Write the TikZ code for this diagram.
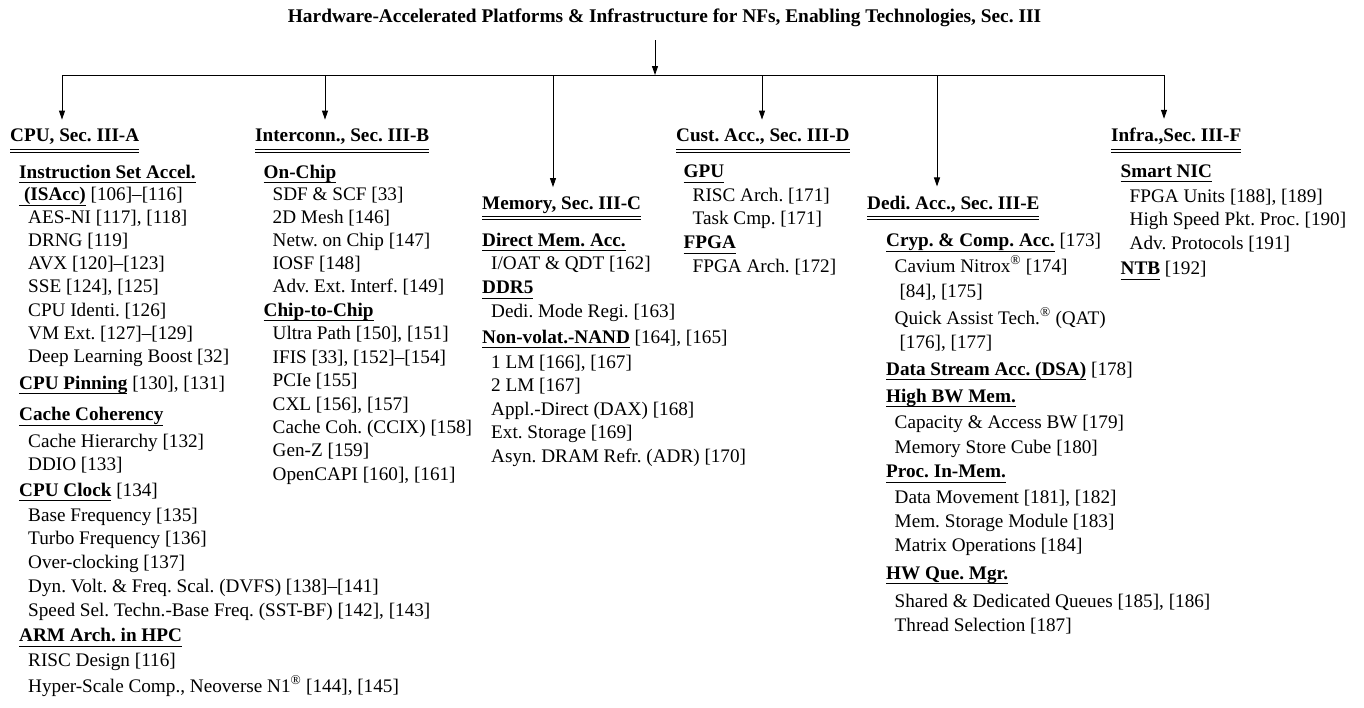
\documentclass[tikz,border=0pt]{standalone}
\usepackage{fontspec}
\setmainfont{Liberation Serif}
\usetikzlibrary{arrows.meta}
\frenchspacing

% single underline under a heading, double rule under a section title
\newcommand\hul[1]{\setbox0\hbox{#1}\rlap{\vrule height -4pt depth 4.9pt width \wd0}\box0\relax}
\newcommand\dul[1]{\setbox0\hbox{#1}\rlap{\vrule height -7.2pt depth 8.1pt width \wd0}\rlap{\vrule height -10.2pt depth 11.1pt width \wd0}\box0\relax}
\newcommand\fs{\fontsize{19.2pt}{23pt}\selectfont}

\tikzset{
  txt/.style={anchor=base west, inner sep=0pt, font=\fs},
  ttl/.style={anchor=base, inner sep=0pt, font=\fontsize{19.35pt}{23pt}\selectfont\bfseries},
  ln/.style={line width=0.9pt},
  arr/.style={line width=0.9pt, -{Triangle[length=9pt,width=6pt]}, shorten >=9pt},
}

\begin{document}
\begin{tikzpicture}[x=1pt, y=-1pt]
\useasboundingbox (0,0) rectangle (1364,707);

% title and top-level bus
\node[ttl] (title) at (664.5,22.5) {Hardware-Accelerated Platforms \& Infrastructure for NFs, Enabling Technologies, Sec. III};
\coordinate (ts)  at (655,40);
\coordinate (top) at (655,75);
\coordinate (b1) at (62,75);
\coordinate (b2) at (325,75);
\coordinate (b3) at (553,75);
\coordinate (b4) at (762,75);
\coordinate (b5) at (937,75);
\coordinate (b6) at (1164,75);
\draw[ln] (b1) -- (b6);
\draw[arr, shorten >=0pt] (ts) -- (top);

% CPU
\node[txt] (cpu) at (10,141.5) {\dul{\textbf{CPU, Sec. III-A}}};
\node[txt] (c1)  at (19,178)   {\hul{\textbf{Instruction Set Accel.}}};
\node[txt] (c2)  at (19,200.5) {\hul{\textbf{\ (ISAcc)}} [106]–[116]};
\node[txt] (c3)  at (28,223.5) {AES-NI [117], [118]};
\node[txt] (c4)  at (28,246.5) {DRNG [119]};
\node[txt] (c5)  at (28,269.5) {AVX [120]–[123]};
\node[txt] (c6)  at (28,292.5) {SSE [124], [125]};
\node[txt] (c7)  at (28,316)   {CPU Identi. [126]};
\node[txt] (c8)  at (28,339)   {VM Ext. [127]–[129]};
\node[txt] (c9)  at (28,362.5) {Deep Learning Boost [32]};
\node[txt] (c10) at (19,389)   {\hul{\textbf{CPU Pinning}} [130], [131]};
\node[txt] (c11) at (19,420.5) {\hul{\textbf{Cache Coherency}}};
\node[txt] (c12) at (28,447)   {Cache Hierarchy [132]};
\node[txt] (c13) at (28,470.5) {DDIO [133]};
\node[txt] (c14) at (19,496)   {\hul{\textbf{CPU Clock}} [134]};
\node[txt] (c15) at (28,521)   {Base Frequency [135]};
\node[txt] (c16) at (28,544.5) {Turbo Frequency [136]};
\node[txt] (c17) at (28,568)   {Over-clocking [137]};
\node[txt] (c18) at (28,592.5) {Dyn. Volt. \& Freq. Scal. (DVFS) [138]–[141]};
\node[txt] (c19) at (28,616.5) {Speed Sel. Techn.-Base Freq. (SST-BF) [142], [143]};
\node[txt] (c20) at (19,641.5) {\hul{\textbf{ARM Arch. in HPC}}};
\node[txt] (c21) at (28,666.5) {RISC Design [116]};
\node[txt] (c22) at (28,692)   {Hyper-Scale Comp., Neoverse N1\textsuperscript{®} [144], [145]};

% Interconnect
\node[txt] (icn) at (255,141.5)   {\dul{\textbf{Interconn., Sec. III-B}}};
\node[txt] (i1)  at (263.5,178)   {\hul{\textbf{On-Chip}}};
\node[txt] (i2)  at (272.5,200.5) {SDF \& SCF [33]};
\node[txt] (i3)  at (272.5,223.5) {2D Mesh [146]};
\node[txt] (i4)  at (272.5,246.5) {Netw. on Chip [147]};
\node[txt] (i5)  at (272.5,269.5) {IOSF [148]};
\node[txt] (i6)  at (272.5,292.5) {Adv. Ext. Interf. [149]};
\node[txt] (i7)  at (263.5,316)   {\hul{\textbf{Chip-to-Chip}}};
\node[txt] (i8)  at (272.5,339.5) {Ultra Path [150], [151]};
\node[txt] (i9)  at (272.5,363)   {IFIS [33], [152]–[154]};
\node[txt] (i10) at (272.5,386.5) {PCIe [155]};
\node[txt] (i11) at (272.5,410)   {CXL [156], [157]};
\node[txt] (i12) at (272.5,433)   {Cache Coh. (CCIX) [158]};
\node[txt] (i13) at (272.5,456.5) {Gen-Z [159]};
\node[txt] (i14) at (272.5,480)   {OpenCAPI [160], [161]};

% Memory
\node[txt] (mem) at (482,209)   {\dul{\textbf{Memory, Sec. III-C}}};
\node[txt] (m1)  at (482,246)   {\hul{\textbf{Direct Mem. Acc.}}};
\node[txt] (m2)  at (491,269.5) {I/OAT \& QDT [162]};
\node[txt] (m3)  at (482,293.5) {\hul{\textbf{DDR5}}};
\node[txt] (m4)  at (491,317.5) {Dedi. Mode Regi. [163]};
\node[txt] (m5)  at (482,343)   {\hul{\textbf{Non-volat.-NAND}} [164], [165]};
\node[txt] (m6)  at (491,368)   {1 LM [166], [167]};
\node[txt] (m7)  at (491,391.5) {2 LM [167]};
\node[txt] (m8)  at (491,415)   {Appl.-Direct (DAX) [168]};
\node[txt] (m9)  at (491,438.5) {Ext. Storage [169]};
\node[txt] (m10) at (491,462)   {Asyn. DRAM Refr. (ADR) [170]};

% Custom accelerators
\node[txt] (cust) at (676,141.5)  {\dul{\textbf{Cust. Acc., Sec. III-D}}};
\node[txt] (u1)   at (683.5,177.5){\hul{\textbf{GPU}}};
\node[txt] (u2)   at (692.5,201)  {RISC Arch. [171]};
\node[txt] (u3)   at (692.5,224.5){Task Cmp. [171]};
\node[txt] (u4)   at (683.5,248.5){\hul{\textbf{FPGA}}};
\node[txt] (u5)   at (692.5,272.5){FPGA Arch. [172]};

% Dedicated accelerators
\node[txt] (dedi) at (867,209)    {\dul{\textbf{Dedi. Acc., Sec. III-E}}};
\node[txt] (d1)   at (886,246.5)  {\hul{\textbf{Cryp. \& Comp. Acc.}} [173]};
\node[txt] (d2)   at (894.5,272)  {Cavium Nitrox\textsuperscript{®} [174]};
\node[txt] (d3)   at (894.5,297)  {\ [84], [175]};
\node[txt] (d4)   at (894.5,324.5){Quick Assist Tech.\textsuperscript{®} (QAT)};
\node[txt] (d5)   at (894.5,348)  {\ [176], [177]};
\node[txt] (d6)   at (886,375)    {\hul{\textbf{Data Stream Acc. (DSA)}} [178]};
\node[txt] (d7)   at (886,402)    {\hul{\textbf{High BW Mem.}}};
\node[txt] (d8)   at (894.5,428)  {Capacity \& Access BW [179]};
\node[txt] (d9)   at (894.5,453)  {Memory Store Cube [180]};
\node[txt] (d10)  at (886,477.5)  {\hul{\textbf{Proc. In-Mem.}}};
\node[txt] (d11)  at (894.5,503.5){Data Movement [181], [182]};
\node[txt] (d12)  at (894.5,527)  {Mem. Storage Module [183]};
\node[txt] (d13)  at (894.5,551.5){Matrix Operations [184]};
\node[txt] (d14)  at (886,579)    {\hul{\textbf{HW Que. Mgr.}}};
\node[txt] (d15)  at (894.5,607)  {Shared \& Dedicated Queues [185], [186]};
\node[txt] (d16)  at (894.5,631)  {Thread Selection [187]};

% Infrastructure
\node[txt] (infra) at (1111,141.5)   {\dul{\textbf{Infra.,Sec. III-F}}};
\node[txt] (f1)    at (1120.5,177)   {\hul{\textbf{Smart NIC}}};
\node[txt] (f2)    at (1129.5,202)   {FPGA Units [188], [189]};
\node[txt] (f3)    at (1129.5,225.5) {High Speed Pkt. Proc. [190]};
\node[txt] (f4)    at (1129.5,249.5) {Adv. Protocols [191]};
\node[txt] (f5)    at (1120.5,274.5) {\hul{\textbf{NTB}} [192]};

% drops from the bus to each section
\draw[arr] (b1) -- (b1 |- cpu.north);
\draw[arr] (b2) -- (b2 |- icn.north);
\draw[arr] (b3) -- (b3 |- mem.north);
\draw[arr] (b4) -- (b4 |- cust.north);
\draw[arr] (b5) -- (b5 |- dedi.north);
\draw[arr] (b6) -- (b6 |- infra.north);
\end{tikzpicture}
\end{document}
